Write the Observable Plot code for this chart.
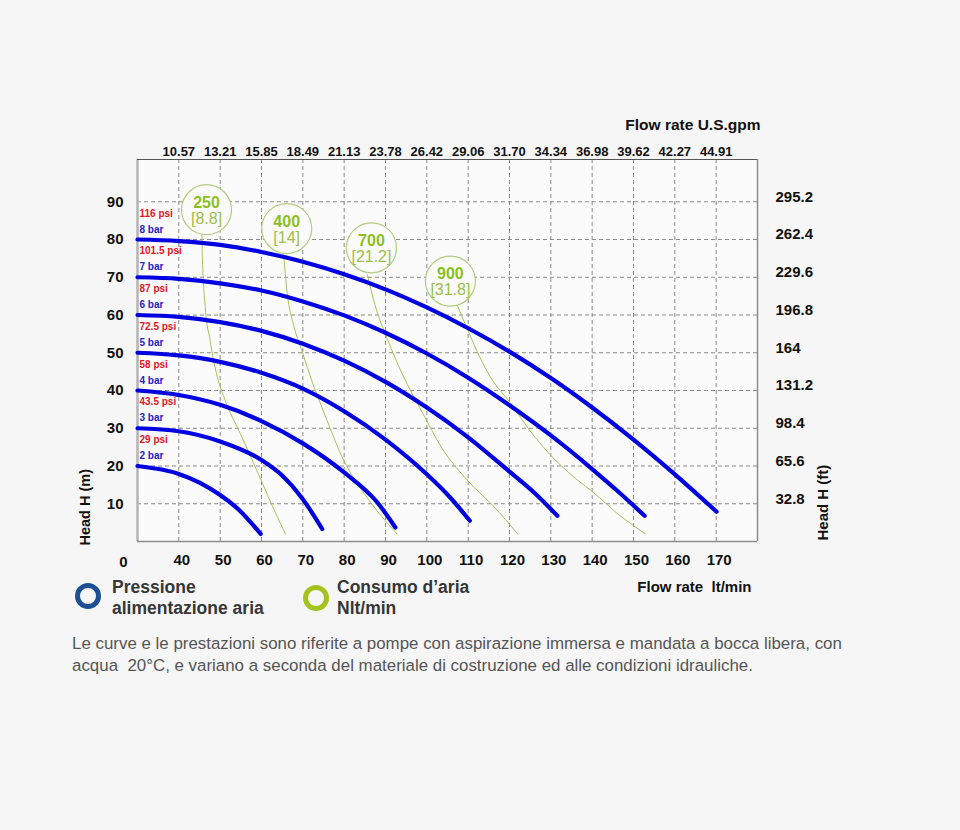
<!DOCTYPE html>
<html>
<head>
<meta charset="utf-8">
<script src="https://cdn.jsdelivr.net/npm/d3@7"></script>
<script src="https://cdn.jsdelivr.net/npm/@observablehq/plot@0.6"></script>
<style>
  html, body { margin: 0; padding: 0; background: #f6f6f6; }
  #wrap { position: relative; width: 960px; height: 830px; font-family: "Liberation Sans", Arial, sans-serif; }
  #chart { position: absolute; left: 0; top: 0; }
  .ring { position: absolute; width: 16px; height: 16px; border-radius: 50%; border-style: solid; border-width: 5px; }
  .leg { position: absolute; font-size: 17.5px; font-weight: bold; color: #363636; line-height: 17px; white-space: nowrap; }
  #caption { position: absolute; left: 72px; top: 633px; font-size: 16.9px; color: #555; line-height: 22px; white-space: nowrap; }
</style>
</head>
<body>
<div id="wrap">
  <div id="chart"></div>
  <div class="ring" style="left:75px; top:583px; border-color:#1c4f93;"></div>
  <div class="leg" style="left:112px; top:579px;">Pressione</div>
  <div class="leg" style="left:112px; top:600px;">alimentazione aria</div>
  <div class="ring" style="left:303px; top:585px; border-color:#a5c31d;"></div>
  <div class="leg" style="left:337px; top:579px;">Consumo d’aria</div>
  <div class="leg" style="left:337px; top:600px;">Nlt/min</div>
  <div id="caption">Le curve e le prestazioni sono riferite a pompe con aspirazione immersa e mandata a bocca libera, con<br>acqua &nbsp;20°C, e variano a seconda del materiale di costruzione ed alle condizioni idrauliche.</div>
</div>
<script>
// ---- tick labels ----
const flowTicks = [40, 50, 60, 70, 80, 90, 100, 110, 120, 130, 140, 150, 160, 170];
const gpmLabels = ["10.57", "13.21", "15.85", "18.49", "21.13", "23.78", "26.42", "29.06", "31.70", "34.34", "36.98", "39.62", "42.27", "44.91"];
const headTicks = [10, 20, 30, 40, 50, 60, 70, 80, 90];
const ftLabels = ["32.8", "65.6", "98.4", "131.2", "164", "196.8", "229.6", "262.4", "295.2"];

// ---- pressure curves (flow lt/min, head m) ----
const barLabels = ["2 bar", "3 bar", "4 bar", "5 bar", "6 bar", "7 bar", "8 bar"];
const psiLabels = ["29 psi", "43.5 psi", "58 psi", "72.5 psi", "87 psi", "101.5 psi", "116 psi"];
const shutoffHead = [20, 30, 40, 50, 60, 70, 80];
const curve2bar = [[30, 20], [40, 17.9], [45, 15.6], [50, 12.3], [55, 7.9], [59.8, 2]];
const curve3bar = [[30, 30], [40, 29.2], [50, 26.5], [60, 21.6], [65, 17.5], [70, 11.2], [74.7, 3.3]];
const curve4bar = [[30, 40], [40, 38.8], [50, 36.2], [60, 31.9], [70, 26], [80, 18.3], [88, 10.4], [92.4, 3.7]];
const curve5bar = [[30, 50], [40, 49.3], [50, 47.6], [60, 44.7], [70, 40.5], [80, 34.5], [90, 27], [100, 17.8], [105.7, 11.6], [110.4, 5.5]];
const curve6bar = [[30, 60], [40, 59.5], [50, 58.1], [60, 55.8], [70, 52.4], [80, 47.9], [90, 42.3], [100, 35.5], [110, 27.6], [120, 18.5], [126, 12.9], [131.6, 6.8]];
const curve7bar = [[30, 70], [40, 69.6], [50, 68.4], [60, 66.5], [70, 63.6], [80, 59.9], [90, 55.3], [100, 49.8], [110, 43.4], [120, 36.1], [130, 28.1], [140, 19.2], [146, 13.5], [152.7, 6.8]];
const curve8bar = [[30, 80], [40, 79.6], [50, 78.6], [60, 76.7], [70, 74.1], [80, 70.8], [90, 66.8], [100, 62], [110, 56.5], [120, 50.3], [130, 43.3], [140, 35.5], [150, 27], [160, 17.8], [170.1, 7.9]];

// ---- air consumption lines ----
const airNl = ["250", "400", "700", "900"];
const airScfm = ["[8.8]", "[14]", "[21.2]", "[31.8]"];
const bubbleFlow = [46.7, 66.1, 86.6, 105.7];
const bubbleHead = [87.9, 82.9, 77.8, 69.0];
const air250 = [[45.6, 81.1], [45.7, 75], [46.4, 62], [47.6, 53], [49.1, 44.5], [51, 38], [55, 28.3], [60, 16], [63, 8.5], [65.8, 2]];
const air400 = [[65.3, 76.7], [66.2, 66], [67.8, 57.2], [69.9, 50.1], [72.3, 42.2], [75.1, 34.2], [79.9, 21.5], [85, 12.5], [92.8, 2]];
const air700 = [[85.6, 70.7], [87.5, 62.5], [90.5, 53.5], [94, 44.5], [99, 34], [103.5, 25], [110, 16], [116, 9.5], [122, 2]];
const air900 = [[107.4, 62.5], [109.9, 56], [112.6, 49.3], [116, 42.5], [120.1, 36.9], [125, 29.3], [130.1, 22.7], [135, 17.6], [140.3, 13], [146, 7.5], [152.9, 2]];

// ---- build tables ----
const pressureCurves = [curve2bar, curve3bar, curve4bar, curve5bar, curve6bar, curve7bar, curve8bar];
const pressureRows = pressureCurves.flatMap((c, k) => c.map(([f, h]) => ({flow: f, head: h, curve: barLabels[k]})));
const airCurves = [air250, air400, air700, air900];
const airRows = airCurves.flatMap((c, k) => c.map(([f, h]) => ({flow: f, head: h, curve: airNl[k]})));
const bubbles = airNl.map((t, i) => ({nl: t, scfm: airScfm[i], flow: bubbleFlow[i], head: bubbleHead[i]}));
const levelRows = barLabels.map((b, i) => ({bar: b, psi: psiLabels[i], head: shutoffHead[i]}));

const bold = {fontWeight: "bold", fill: "#111"};

const chart = Plot.plot({
  width: 960,
  height: 620,
  marginLeft: 137,
  marginRight: 203,
  marginTop: 159,
  marginBottom: 79,
  style: {background: "#f6f6f6", fontFamily: "'Liberation Sans', Arial, sans-serif"},
  x: {domain: [30, 180]},
  y: {domain: [0, 101.2]},
  marks: [
    Plot.frame({fill: "#fbfbfb", stroke: null}),
    Plot.ruleX(flowTicks, {stroke: "#8a8a8a", strokeDasharray: "4,3", strokeWidth: 1}),
    Plot.ruleY(headTicks, {stroke: "#8a8a8a", strokeDasharray: "4,3", strokeWidth: 1}),
    Plot.ruleX([30], {stroke: "#b4b4b4", strokeWidth: 2.5}),
    Plot.ruleX([180], {stroke: "#8c8c8c", strokeWidth: 1.5}),
    Plot.ruleY([0], {stroke: "#8c8c8c", strokeWidth: 1.5}),
    Plot.ruleY([101.2], {stroke: "#555", strokeWidth: 1}),
    // air consumption lines
    Plot.line(airRows, {x: "flow", y: "head", z: "curve", stroke: "#a4c35a", strokeWidth: 1, curve: "monotone-x"}),
    // pressure curves
    Plot.line(pressureRows, {x: "flow", y: "head", z: "curve", stroke: "#0000e0", strokeWidth: 4.2, curve: "monotone-x"}),
    // bubbles
    Plot.dot(bubbles, {x: "flow", y: "head", r: 25, fill: "#fbfbfb", stroke: "#b3cd80", strokeWidth: 1.2}),
    Plot.text(bubbles, {x: "flow", y: "head", text: "nl", dy: -7, fontSize: 16, fontWeight: "bold", fill: "#8cbf1f"}),
    Plot.text(bubbles, {x: "flow", y: "head", text: "scfm", dy: 9, fontSize: 16, fill: "#9cc04a"}),
    // pressure labels
    Plot.text(levelRows, {x: 30, y: "head", text: "psi", dx: 2, dy: -26, textAnchor: "start", fontSize: 10, fontWeight: "bold", fill: "#e3161d"}),
    Plot.text(levelRows, {x: 30, y: "head", text: "bar", dx: 2, dy: -10, textAnchor: "start", fontSize: 10, fontWeight: "bold", fill: "#2323c8"}),
    // axes
    Plot.axisX({anchor: "bottom", ticks: flowTicks, tickSize: 0, tickPadding: 13, fontSize: 15, dx: 3, label: null, ...bold}),
    Plot.text(["0"], {x: 30, y: 0, text: d => d, dx: -14, dy: 21, fontSize: 15, ...bold}),
    Plot.axisX({anchor: "top", ticks: flowTicks, tickFormat: d => gpmLabels[flowTicks.indexOf(d)], tickSize: 0, tickPadding: 4, fontSize: 13, label: null, ...bold}),
    Plot.axisY({anchor: "left", ticks: headTicks, tickSize: 0, tickPadding: 14, fontSize: 15, label: null, ...bold}),
    Plot.axisY({anchor: "right", ticks: headTicks, tickFormat: d => ftLabels[headTicks.indexOf(d)], tickSize: 0, tickPadding: 18, dy: -5, fontSize: 15, label: null, ...bold}),
    // axis titles
    Plot.text(["Flow rate U.S.gpm"], {frameAnchor: "top-right", text: d => d, dx: 3, dy: -41, textAnchor: "end", fontSize: 15.5, ...bold}),
    Plot.text(["Flow rate \u00a0lt/min"], {frameAnchor: "bottom-right", text: d => d, dx: -6, dy: 50, textAnchor: "end", fontSize: 15, ...bold}),
    Plot.text(["Head H (m)"], {frameAnchor: "bottom-left", text: d => d, rotate: -90, textAnchor: "start", dx: -48, dy: 4, fontSize: 14.5, ...bold}),
    Plot.text(["Head H (ft)"], {frameAnchor: "bottom-right", text: d => d, rotate: -90, textAnchor: "start", dx: 70, dy: -1, fontSize: 15, ...bold})
  ]
});
document.getElementById("chart").appendChild(chart);
</script>
</body>
</html>
